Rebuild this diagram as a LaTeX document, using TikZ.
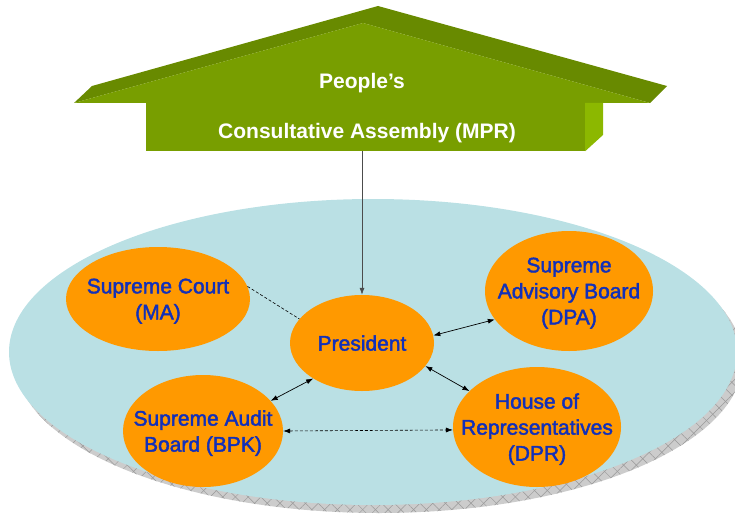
\documentclass[tikz,border=0pt]{standalone}
\usepackage{fontspec}
\setmainfont{Liberation Sans}
\newfontfamily\organfont[FakeBold=2]{Liberation Sans}
\usetikzlibrary{arrows.meta,patterns.meta,shapes.geometric}

\definecolor{roofdark}{RGB}{104,138,0}
\definecolor{roofface}{RGB}{120,158,0}
\definecolor{boxside}{RGB}{140,184,0}
\definecolor{basin}{RGB}{186,224,228}
\definecolor{organ}{RGB}{255,153,0}
\definecolor{organtext}{RGB}{18,48,185}

\begin{document}
\begin{tikzpicture}[x=1pt,y=-1pt,
    organ/.style={ellipse,fill=organ,inner sep=-20pt,text=organtext,align=center,text depth=0pt,
      font=\organfont\fontsize{21}{26}\selectfont},
    title/.style={text=white,inner sep=0pt,font=\bfseries\fontsize{21}{25}\selectfont},
    link/.style={{Latex[length=7pt,width=5pt]}-{Latex[length=7pt,width=5pt]},line width=0.7pt},
    thin dash/.style={dash pattern=on 3pt off 2pt,line width=0.6pt}]
  \useasboundingbox (0,0) rectangle (735,516);

  % shadow and basin
  \fill[gray!40] (379,360) ellipse [x radius=364,y radius=153];
  \fill[pattern={Lines[angle=45,distance=9pt,line width=0.5pt]},pattern color=gray!80]
    (379,360) ellipse [x radius=364,y radius=153];
  \fill[pattern={Lines[angle=-45,distance=9pt,line width=0.5pt]},pattern color=gray!80]
    (379,360) ellipse [x radius=364,y radius=153];
  \fill[basin] (373,352) ellipse [x radius=364,y radius=153];

  % roof
  \fill[roofdark] (74,103) -- (92,86) -- (378,6) -- (667,86) -- (650,103) -- (363,23) -- cycle;
  \fill[roofface] (74,103) -- (363,23) -- (650,103) -- cycle;

  % assembly box
  \node[fill=roofface,minimum width=439pt,minimum height=48pt,inner sep=0pt] (mpr) at (365.5,127) {};
  \fill[boxside] (mpr.north east) -- ++(18,0) -- ++(0,32) -- (mpr.south east) -- cycle;
  \node[title] (peoples) at (362,83) {People's};
  \node[title] (assembly) at (367,133) {Consultative Assembly (MPR)};

  % organs
  \node[organ,minimum width=184pt,minimum height=104pt] (ma) at (158,299) {Supreme Court\\(MA)};
  \node[organ,minimum width=144pt,minimum height=96pt] (pres) at (362,343) {President};
  \node[organ,minimum width=168pt,minimum height=120pt] (dpa) at (569,291) {Supreme\\Advisory Board\\(DPA)};
  \node[organ,minimum width=160pt,minimum height=112pt] (bpk) at (203,431) {Supreme Audit\\Board (BPK)};
  \node[organ,minimum width=168pt,minimum height=120pt] (dpr) at (537,427) {House of\\Representatives\\(DPR)};

  % connectors
  \draw[-{Latex[length=7pt,width=5pt]},black!70,line width=0.7pt] (pres.north |- mpr.south) -- (pres.north);
  \draw[thin dash] (ma.8) -- (pres.159);
  \draw[link] (pres.6) -- (dpa.201);
  \draw[link] (pres.-20) -- (dpr.152);
  \draw[link] (pres.216) -- (bpk.24);
  \draw[link,thin dash] (bpk.east) -- (dpr.182);
\end{tikzpicture}
\end{document}
